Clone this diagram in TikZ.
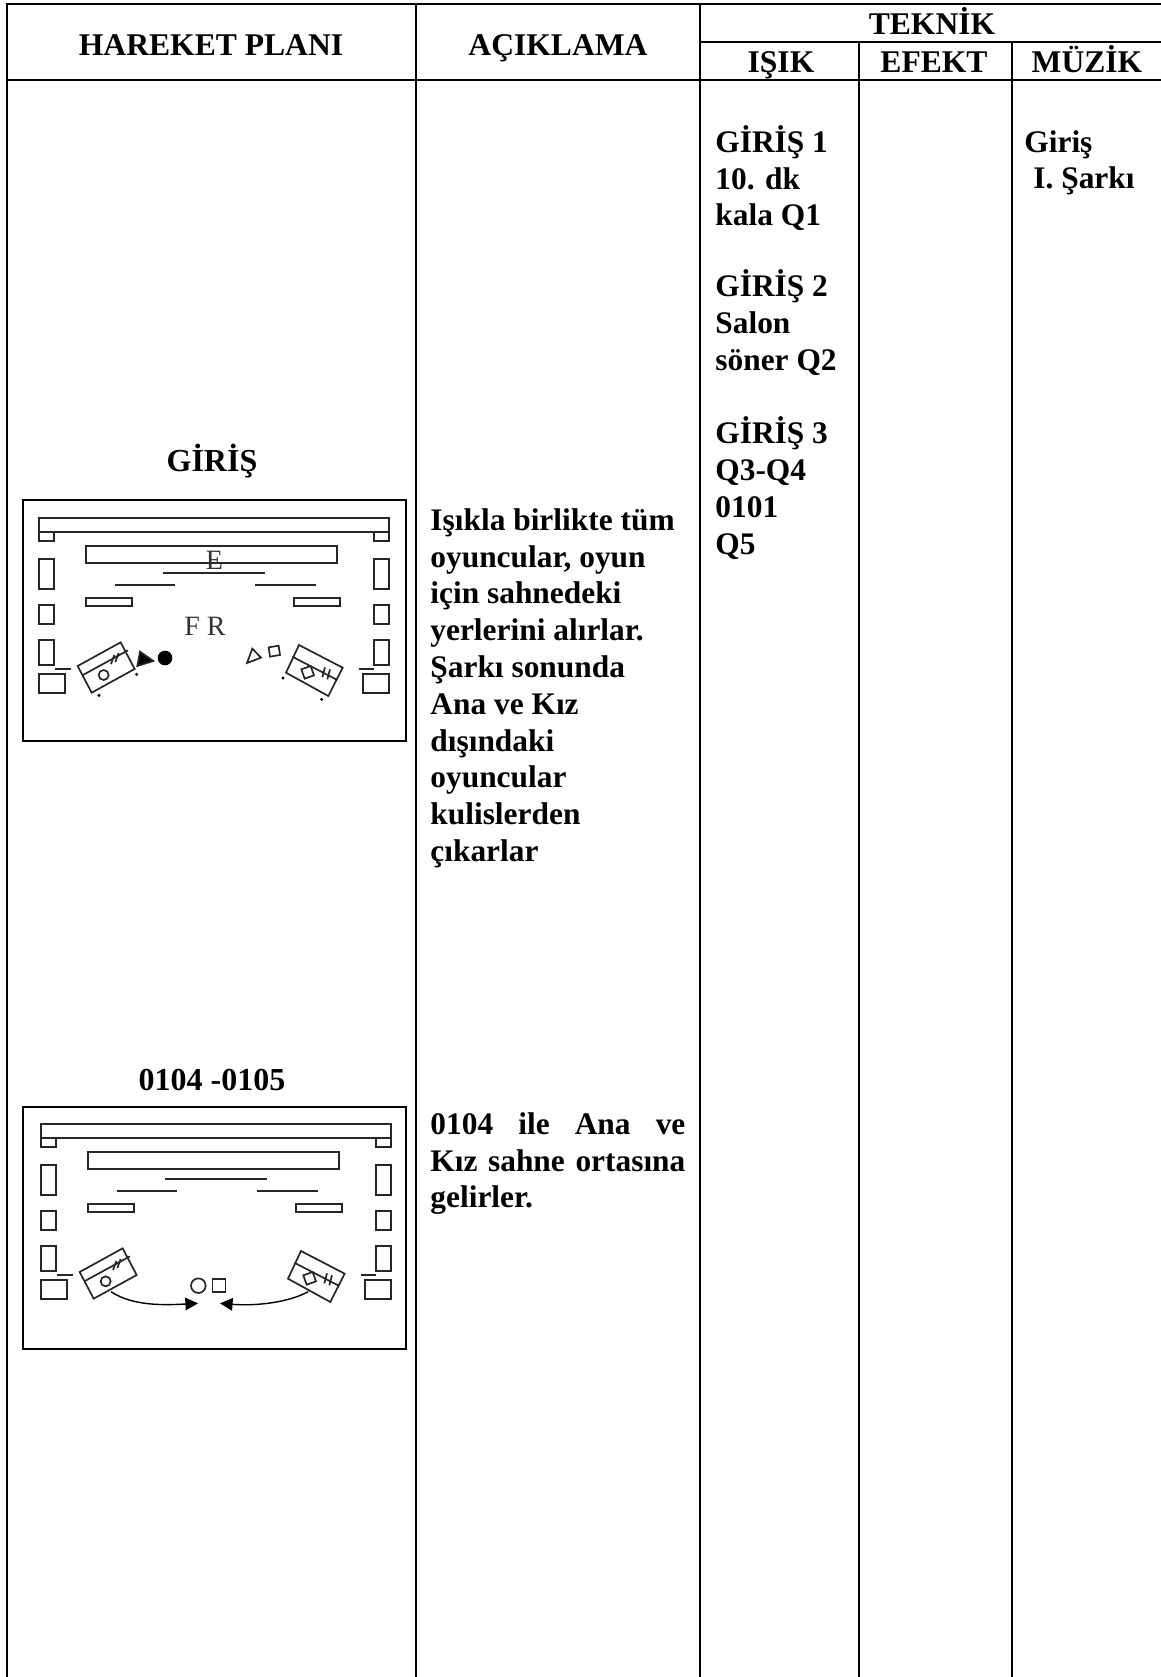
\documentclass[tikz,border=0pt]{standalone}
\usepackage{fontspec}
\setmainfont{Liberation Serif}
\usetikzlibrary{arrows.meta,positioning}

\tikzset{
    rule/.style={line width=1.25pt},
    thin rule/.style={line width=1pt},
    plan/.style={line width=0.85pt, draw=black!85},
    head/.style={font=\fontsize{15.8}{18}\bfseries\selectfont, inner sep=0pt, anchor=base},
    body/.style={font=\fontsize{15.7}{18.4}\bfseries\selectfont, inner sep=0pt, anchor=north west, align=left},
    title/.style={font=\fontsize{16}{18}\bfseries\selectfont, inner sep=0pt},
    letter/.style={font=\fontsize{14}{16}\selectfont, inner sep=0pt, text=black!80},
    bigtip/.style={-{Triangle[length=6.3pt,width=6.3pt]}, line width=0.7pt},
    % stage seen from above, drawn in units of a third of a pixel
    stageplan/.pic={
        \draw[plan] (117,113) rectangle (1168,157);
        \draw[plan] (117,157) rectangle (163,182);
        \draw[plan] (1122,157) rectangle (1168,182);
        \draw[plan] (257,197) rectangle (1010,250);
        \draw[plan] (490,279) -- (796,279);
        \draw[plan] (344,316) -- (526,316);
        \draw[plan] (766,316) -- (948,316);
        \draw[plan] (259,355) rectangle (396,378);
        \draw[plan] (883,355) rectangle (1020,378);
        \draw[plan] (117,236) rectangle (163,326);
        \draw[plan] (117,374) rectangle (163,431);
        \draw[plan] (117,480) rectangle (163,555);
        \draw[plan] (166,567) -- (213,567);
        \draw[plan] (117,581) rectangle (196,638);
        \draw[plan] (1122,236) rectangle (1168,326);
        \draw[plan] (1122,374) rectangle (1168,431);
        \draw[plan] (1122,480) rectangle (1168,555);
        \draw[plan] (1076,567) -- (1122,567);
        \draw[plan] (1090,581) rectangle (1168,638);
        % left wagon
        \draw[plan] (233,558) -- (362,487) -- (404,567) -- (275,638) -- cycle;
        \draw[plan] (247,586) -- (384,511);
        \draw[plan] (333,552) -- (343,525);
        \draw[plan] (346,546) -- (356,519);
        % right wagon
        \draw[plan] (897,495) -- (1028,563) -- (985,648) -- (858,578) -- cycle;
        \draw[plan] (877,530) -- (1010,599);
        \draw[plan] (967,592) -- (975,562);
        \draw[plan] (982,598) -- (990,568);
        \draw[plan] (904,568) -- (932,558) -- (942,586) -- (914,596) -- cycle;
    }
}

\begin{document}
\begin{tikzpicture}[x=0.5pt, y=-0.5pt]

    \useasboundingbox (0,0) rectangle (1161,1677);

    % table
    \draw[rule] (6,4) -- (1161,4);
    \draw[rule] (700,42) -- (1161,42);
    \draw[rule] (6,80) -- (1161,80);
    \draw[thin rule] (7,4) -- (7,1677);
    \draw[thin rule] (415.5,4) -- (415.5,1677);
    \draw[thin rule] (700,4) -- (700,1677);
    \draw[thin rule] (859,42) -- (859,1677);
    \draw[thin rule] (1011.5,42) -- (1011.5,1677);

    \node[head] (plan)   at (211,55) {HAREKET PLANI};
    \node[head] (note)   at (558,55) {AÇIKLAMA};
    \node[head] (tech)   at (932,34) {TEKNİK};
    \node[head] (light)  at (781,72) {IŞIK};
    \node[head] (effect) at (934,72) {EFEKT};
    \node[head] (music)  at (1087,72) {MÜZİK};

    \node[body] (cues) at (715,125) {GİRİŞ 1\\10. dk\\kala Q1\\[17pt]GİRİŞ 2\\Salon\\söner Q2\\[18.4pt]GİRİŞ 3\\Q3-Q4\\0101\\Q5};
    \node[body] (song) at (1024,130) {Giriş\\\hspace*{4.5pt}I. Şarkı};

    \node[title] (open) at (212,461) {GİRİŞ};
    \node[body] (opennote) at (430,508) {Işıkla birlikte tüm\\oyuncular, oyun\\için sahnedeki\\yerlerini alırlar.\\Şarkı sonunda\\Ana ve Kız\\dışındaki\\oyuncular\\kulislerden\\çıkarlar};

    \node[title] (cuepair) at (212,1080) {0104 -0105};
    \node[body, text width=127.5pt, align=justify] (pairnote) at (430,1112) {0104 ile Ana ve Kız sahne ortasına gelirler.};

    % first plan
    \draw[rule] (23,500) rectangle (406,741);
    \pic[scale=1/3] at (0,480) {stageplan};
    \begin{scope}[shift={(0,480)}, scale=1/3]
        \node[letter] (e) at (643,240) {E};
        \node[letter] (fr) at (615,440) {F R};
        \filldraw[plan] (412,558) -- (420,515) -- (460,543) -- cycle;
        \fill (495,534) circle (22);
        \draw[plan] (311,585) circle (15);
        \fill (297,646) circle (5);
        \fill (410,583) circle (5);
        \fill (849,594) circle (5);
        \fill (965,658) circle (5);
        \draw[plan] (741,549) -- (757,506) -- (783,533) -- cycle;
        \draw[plan] (806,502) -- (836,497) -- (840,525) -- (810,530) -- cycle;
    \end{scope}

    % second plan
    \draw[rule] (23,1107) rectangle (406,1349);
    \pic[scale=1/3] at (2,1086) {stageplan};
    \begin{scope}[shift={(0,1090)}, scale=1/3]
        \draw[plan] (317,574) circle (15);
        \node[draw, plan, circle, minimum size=7.3pt, inner sep=0pt] (ana) at (595,587) {};
        \node[draw, plan, minimum size=6.6pt, inner sep=0pt] (kiz) at (657,587) {};
        \coordinate (anastart) at (333,605);
        \coordinate (anaend) at (594,640);
        \coordinate (kizstart) at (925,605);
        \coordinate (kizend) at (660,640);
        \draw[bigtip] (anastart) .. controls (400,650) and (500,645) .. (anaend);
        \draw[bigtip] (kizstart) .. controls (860,640) and (760,648) .. (kizend);
    \end{scope}

\end{tikzpicture}
\end{document}
